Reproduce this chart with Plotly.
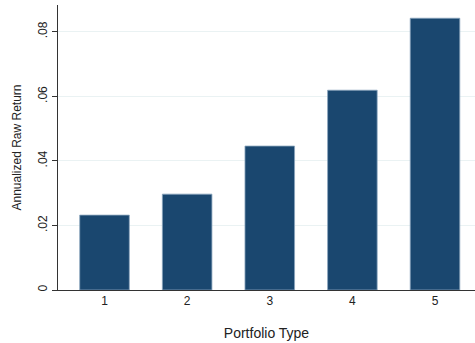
import plotly.graph_objects as go

# Portfolio categories and their annualized raw returns
portfolios = [1, 2, 3, 4, 5]
returns = [0.0232, 0.0297, 0.0446, 0.0619, 0.0842]

# Y axis ticks (Stata-style labels without leading zero)
y_tickvals = [0, 0.02, 0.04, 0.06, 0.08]
y_ticktext = ["0", ".02", ".04", ".06", ".08"]

bar_color = "#1a476f"
grid_color = "#eaf2f3"
axis_color = "#333333"

fig = go.Figure(
    go.Bar(
        x=portfolios,
        y=returns,
        width=0.6,
        marker=dict(color=bar_color, line=dict(color="#8aa4bd", width=0.8)),
    )
)

fig.update_layout(
    width=475,
    height=343,
    margin=dict(l=58, r=0, t=5, b=53),
    paper_bgcolor="white",
    plot_bgcolor="white",
    showlegend=False,
    font=dict(family="Liberation Sans, Arial, sans-serif", color="#222222"),
)

fig.update_xaxes(
    range=[0.437, 5.484],
    tickvals=portfolios,
    ticktext=[str(p) for p in portfolios],
    ticks="",
    showgrid=False,
    showline=True,
    linecolor=axis_color,
    linewidth=1,
    tickfont=dict(size=12),
    title=dict(text="Portfolio Type", font=dict(size=14), standoff=20),
)

fig.update_yaxes(
    range=[0, 0.0883],
    tickvals=y_tickvals,
    ticktext=y_ticktext,
    tickangle=-90,
    ticks="outside",
    ticklen=5,
    tickcolor=axis_color,
    showgrid=True,
    gridcolor=grid_color,
    gridwidth=1,
    zeroline=False,
    showline=True,
    linecolor=axis_color,
    linewidth=1,
    tickfont=dict(size=12),
    title=dict(text="Annualized Raw Return", font=dict(size=12), standoff=12),
)

fig.write_html("out.html")
